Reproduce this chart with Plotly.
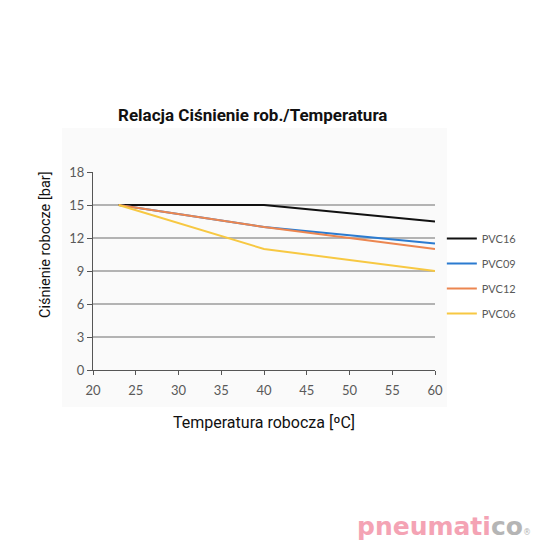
import plotly.graph_objects as go

temps = [23, 40, 60]
series_names = ["PVC16", "PVC09", "PVC12", "PVC06"]
pvc16 = [15, 15, 13.5]
pvc09 = [15, 13, 11.5]
pvc12 = [15, 13, 11]
pvc06 = [15, 11, 9]
colors = ["#111111", "#2b7bd0", "#ec8650", "#f7c842"]
x_ticks = [20, 25, 30, 35, 40, 45, 50, 55, 60]
y_ticks = [0, 3, 6, 9, 12, 15, 18]

title_text = "Relacja Ciśnienie rob./Temperatura"
x_title = "Temperatura robocza [ºC]"
y_title = "Ciśnienie robocze [bar]"

fig = go.Figure()
for name, vals, c in zip(series_names, [pvc16, pvc09, pvc12, pvc06], colors):
    fig.add_trace(go.Scatter(x=temps, y=vals, mode="lines", name=name,
                             line=dict(color=c, width=2), legendgroup=name))

cond = "Roboto, Inter, sans-serif"
tickf = dict(family="Lato, Open Sans, sans-serif", size=13, color="#595959")
fig.update_layout(
    width=540, height=540,
    margin=dict(l=93, r=105, t=172, b=170),
    paper_bgcolor="white",
    plot_bgcolor="rgba(0,0,0,0)",
    title=dict(text="<b>" + title_text + "</b>", x=0.468, xanchor="center",
               y=1 - 115 / 540, yanchor="middle",
               font=dict(family=cond, size=17, color="#111111")),
    showlegend=True,
    legend=dict(x=1.02, y=0.737, xanchor="left", yanchor="top",
                font=dict(family="Lato, Open Sans, sans-serif", size=11, color="#595959"),
                tracegroupgap=6, bgcolor="rgba(0,0,0,0)", itemwidth=30),
    xaxis=dict(range=[20, 60], tickvals=x_ticks, ticks="outside", ticklen=4,
               tickcolor="#555555", showline=True, linecolor="#555555", linewidth=1,
               showgrid=False, zeroline=False, ticklabelstandoff=4,
               tickfont=tickf,
               title=dict(text=x_title, standoff=20,
                          font=dict(family=cond, size=16, color="#111111"))),
    yaxis=dict(range=[0, 18], tickvals=y_ticks, ticks="outside", ticklen=5,
               tickcolor="#555555", showline=True, linecolor="#555555", linewidth=1,
               showgrid=True, gridcolor="#b3b3b3", gridwidth=1.5, zeroline=False,
               tickfont=tickf),
    shapes=[dict(type="rect", xref="paper", yref="paper", layer="below",
                 x0=(62 - 93) / 342, x1=(447 - 93) / 342,
                 y0=(370 - 407) / 198, y1=(370 - 128) / 198,
                 fillcolor="#fafafa", line=dict(width=0))],
    annotations=[
        dict(text=y_title, textangle=-90, xref="paper", yref="paper",
             x=(45 - 93) / 342, y=(370 - 245) / 198, xanchor="center", yanchor="middle",
             showarrow=False, font=dict(family=cond, size=14.5, color="#111111")),
        dict(text="<b>pneumati<span style='color:#b5b5b5'>co</span></b><span style='font-size:8px;color:#b5b5b5'>®</span>",
             xref="paper", yref="paper", x=(533 - 93) / 342, y=(370 - 526) / 198,
             xanchor="right", yanchor="middle", showarrow=False,
             font=dict(family="DejaVu Sans, sans-serif", size=25, color="#f4a3b4"))],
)
fig.write_html("out.html")
